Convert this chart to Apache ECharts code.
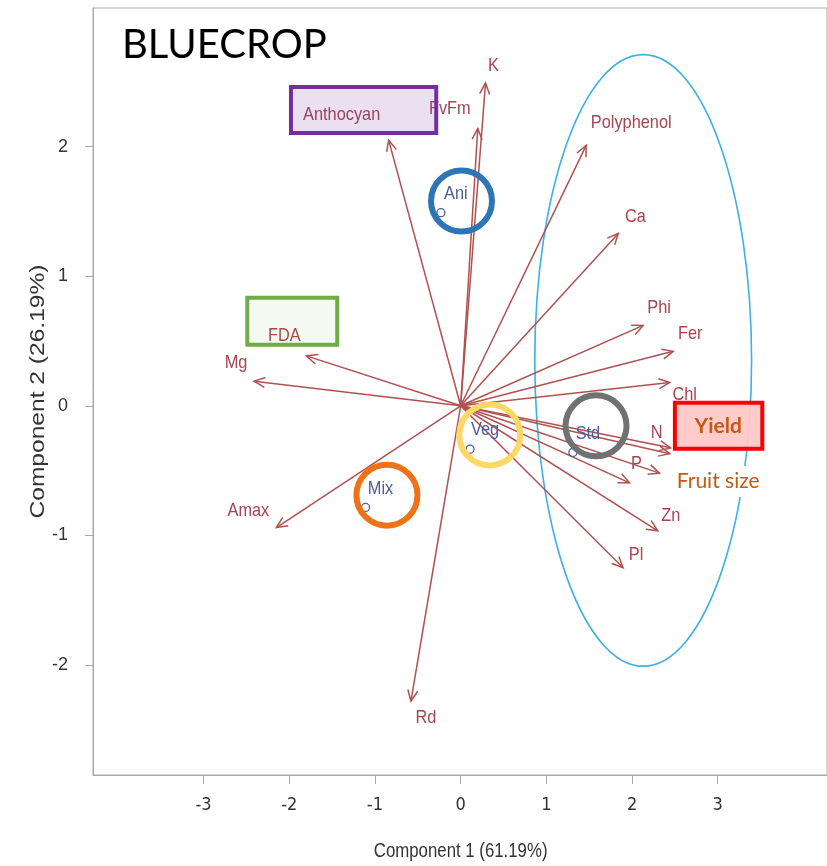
<!DOCTYPE html>
<html>
<head>
<meta charset="utf-8">
<script src="https://cdn.jsdelivr.net/npm/echarts@6/dist/echarts.min.js"></script>
<style>
  html, body { margin: 0; padding: 0; background: #fff; }
  #chart { width: 827px; height: 866px; }
</style>
</head>
<body>
<div id="chart"></div>
<script>
// Variable loadings on the first two principal components
const variables = ['K', 'FvFm', 'Anthocyan', 'Polyphenol', 'Ca', 'Phi', 'Fer', 'Chl', 'N', 'Yield', 'Fruit size', 'P', 'Zn', 'Pl', 'Rd', 'Amax', 'Mg', 'FDA'];
const comp1 = [0.29, 0.20, -0.84, 1.465, 1.84, 2.13, 2.48, 2.44, 2.45, 2.44, 2.32, 1.97, 2.30, 1.895, -0.58, -2.15, -2.41, -1.80];
const comp2 = [2.49, 2.14, 2.05, 2.01, 1.33, 0.62, 0.42, 0.18, -0.325, -0.37, -0.52, -0.595, -0.965, -1.25, -2.28, -0.94, 0.19, 0.385];

// Treatment centroids (scores)
const groups = ['Ani', 'Veg', 'Mix', 'Std'];
const groupX = [-0.23, 0.11, -1.11, 1.31];
const groupY = [1.49, -0.335, -0.785, -0.36];

// Tick labels
const xTicks = [-3, -2, -1, 0, 1, 2, 3];
const yTicks = [-2, -1, 0, 1, 2];

// Highlighted treatments (ring centres) and the cluster ellipse
const ringCentersX = [0.01, 0.34, 1.58, -0.86];
const ringCentersY = [1.58, -0.225, -0.155, -0.69];
const clusterEllipse = [2.13, 0.35, 1.265, 2.36]; // cx, cy, rx, ry

// Highlight boxes: x1, y1, x2, y2
const boxAnthocyan = [-1.98, 2.46, -0.285, 2.105];
const boxFDA = [-2.49, 0.834, -1.44, 0.471];
const boxYield = [2.50, 0.023, 3.52, -0.332];
const yieldLabelPos = [3.005, -0.158];
const fruitLabelPos = [3.005, -0.585];

// ---- styling ----
const ARROW = '#b0514f';
const ARROW_TEXT = '#a8444f';
const GROUP_TEXT = '#4d5d9b';
const SANS = "'Liberation Sans', Arial, sans-serif";
const AXIS = '#a9a9a9';
const NARROW_SCALE = 0.86;
const ringColors = ['#2e75b6', '#fdd865', '#717171', '#ee7318'];
// label placement relative to each arrow tip, in pixels (null = hidden under an annotation)
const labelOffsets = [
  [8, -17], [-28, -20], [-47, -25], [45, -23], [17, -17], [16, -18], [17, -18], [15, 12],
  [-14, -15], null, null, [7, -19], [13, -15], [13, -13], [15, 17], [-28, -17], [-18, -18], [-22, -20]
];

const X_MIN = -4.29, X_MAX = 4.275, Y_MIN = -2.85, Y_MAX = 3.07;

const arrowData = variables.map((v, i) => [comp1[i], comp2[i]]);
const groupData = groups.map((g, i) => [groupX[i], groupY[i]]);
const ringData = ringCentersX.map((x, i) => [x, ringCentersY[i]]);

function narrowText(x, y, text, size, color) {
  return {
    type: 'text', x, y, scaleX: NARROW_SCALE,
    style: { text, fill: color, font: size + 'px ' + SANS, align: 'center', verticalAlign: 'middle' }
  };
}

function renderArrow(params, api) {
  const i = params.dataIndex;
  const o = api.coord([0, 0]);
  const t = api.coord([api.value(0), api.value(1)]);
  const a = Math.atan2(t[1] - o[1], t[0] - o[0]);
  const hl = 12, ha = 0.43;
  const p1 = [t[0] - hl * Math.cos(a - ha), t[1] - hl * Math.sin(a - ha)];
  const p2 = [t[0] - hl * Math.cos(a + ha), t[1] - hl * Math.sin(a + ha)];
  const children = [
    { type: 'line', shape: { x1: o[0], y1: o[1], x2: t[0], y2: t[1] }, style: { stroke: ARROW, lineWidth: 1.5 } },
    { type: 'polyline', shape: { points: [p1, t, p2] }, style: { stroke: ARROW, lineWidth: 1.5, fill: 'none' } }
  ];
  const off = labelOffsets[i];
  if (off) children.push(narrowText(t[0] + off[0], t[1] + off[1], variables[i], 19, ARROW_TEXT));
  return { type: 'group', children };
}

function renderGroup(params, api) {
  const p = api.coord([api.value(0), api.value(1)]);
  return {
    type: 'group',
    children: [
      { type: 'circle', shape: { cx: p[0], cy: p[1], r: 4 }, style: { stroke: GROUP_TEXT, lineWidth: 1.3, fill: 'none' } },
      narrowText(p[0] + 15, p[1] - 19, groups[params.dataIndex], 19, GROUP_TEXT)
    ]
  };
}

function renderRing(params, api) {
  const p = api.coord([api.value(0), api.value(1)]);
  return { type: 'circle', shape: { cx: p[0], cy: p[1], r: 30.5 },
    style: { stroke: ringColors[params.dataIndex], lineWidth: 6, fill: 'none' } };
}

function renderEllipse(params, api) {
  const c = api.coord([api.value(0), api.value(1)]);
  const s = api.size([api.value(2), api.value(3)]);
  return { type: 'ellipse', shape: { cx: c[0], cy: c[1], rx: s[0], ry: s[1] },
    style: { stroke: '#3cb1e3', lineWidth: 1.6, fill: 'none' } };
}

function boxRenderer(stroke, fill) {
  return function (params, api) {
    const p1 = api.coord([api.value(0), api.value(1)]);
    const p2 = api.coord([api.value(2), api.value(3)]);
    return { type: 'rect', shape: { x: p1[0], y: p1[1], width: p2[0] - p1[0], height: p2[1] - p1[1] },
      style: { stroke, fill, lineWidth: 4 } };
  };
}

const chart = echarts.init(document.getElementById('chart'));
chart.setOption({
  animation: false,
  backgroundColor: '#ffffff',
  title: {
    text: 'BLUECROP', left: 117, top: 20,
    textStyle: { fontFamily: 'Lato, sans-serif', fontSize: 40, fontWeight: 'normal', color: '#000' }
  },
  grid: { left: 93, top: 8, width: 738, height: 767, show: true, borderColor: AXIS, borderWidth: 1 },
  xAxis: {
    type: 'value', min: X_MIN, max: X_MAX,
    axisLine: { show: true, onZero: false, lineStyle: { color: AXIS } },
    axisTick: { show: true, customValues: xTicks, length: 9, lineStyle: { color: AXIS } },
    axisLabel: { customValues: xTicks, margin: 21, fontFamily: "'DejaVu Sans Condensed', sans-serif", fontSize: 18, color: '#333' },
    splitLine: { show: false }
  },
  yAxis: {
    type: 'value', min: Y_MIN, max: Y_MAX,
    axisLine: { show: true, onZero: false, lineStyle: { color: AXIS } },
    axisTick: { show: true, customValues: yTicks, length: 8, lineStyle: { color: AXIS } },
    axisLabel: { customValues: yTicks, margin: 25, fontFamily: SANS, fontSize: 18, color: '#333' },
    splitLine: { show: false }
  },
  series: [
    { type: 'custom', name: 'cluster', renderItem: renderEllipse, data: [clusterEllipse], z: 1, silent: true },
    { type: 'custom', name: 'loadings', renderItem: renderArrow, data: arrowData, z: 2, silent: true },
    { type: 'custom', name: 'treatments', renderItem: renderGroup, data: groupData, z: 3, silent: true },
    { type: 'custom', name: 'rings', renderItem: renderRing, data: ringData, z: 4, silent: true },
    { type: 'custom', name: 'boxAnthocyan', renderItem: boxRenderer('#7030a0', 'rgba(112,48,160,0.15)'), data: [boxAnthocyan], z: 5, silent: true },
    { type: 'custom', name: 'boxFDA', renderItem: boxRenderer('#70ad47', 'rgba(112,173,71,0.08)'), data: [boxFDA], z: 5, silent: true },
    { type: 'custom', name: 'boxYield', renderItem: boxRenderer('#ff0000', 'rgba(255,200,200,0.95)'), data: [boxYield], z: 5, silent: true },
    {
      type: 'custom', name: 'notes', z: 6, silent: true,
      data: [[yieldLabelPos[0], yieldLabelPos[1]], [fruitLabelPos[0], fruitLabelPos[1]]],
      renderItem: function (params, api) {
        const p = api.coord([api.value(0), api.value(1)]);
        if (params.dataIndex === 0) {
          return { type: 'text', x: p[0], y: p[1],
            style: { text: 'Yield', fill: '#c55a11', font: 'bold 21px Lato, sans-serif', align: 'center', verticalAlign: 'middle' } };
        }
        return { type: 'text', x: p[0], y: p[1],
          style: { text: 'Fruit size', fill: '#c55a11', font: '21px Lato, sans-serif', align: 'center', verticalAlign: 'middle',
            backgroundColor: '#ffffff', padding: [5, 3, 5, 3] } };
      }
    }
  ]
});

// Axis titles, placed from the axes' own scales
const bottomCentre = chart.convertToPixel({ gridIndex: 0 }, [0, Y_MIN]);
const leftMiddle = chart.convertToPixel({ gridIndex: 0 }, [X_MIN, (Y_MIN + Y_MAX) / 2]);
chart.setOption({
  graphic: [
    { type: 'text', x: bottomCentre[0], y: bottomCentre[1] + 76, scaleX: 0.84,
      style: { text: 'Component 1 (61.19%)', font: '20px ' + SANS, fill: '#333', align: 'center', verticalAlign: 'middle' } },
    { type: 'text', x: leftMiddle[0] - 55, y: leftMiddle[1], rotation: Math.PI / 2, scaleX: 1.17,
      style: { text: 'Component 2 (26.19%)', font: '21px ' + SANS, fill: '#333', align: 'center', verticalAlign: 'middle' } }
  ]
});
</script>
</body>
</html>
